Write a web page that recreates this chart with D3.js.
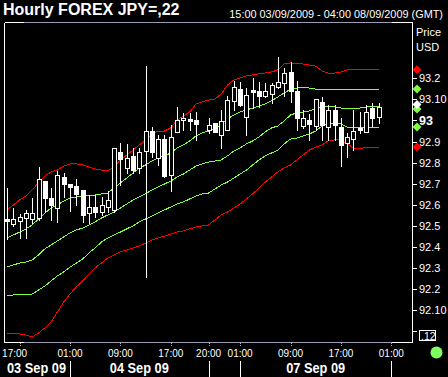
<!DOCTYPE html>
<html>
<head>
<meta charset="utf-8">
<script src="https://cdn.jsdelivr.net/npm/d3@7"></script>
<style>
  body { margin: 0; background: #000; }
  svg { display: block; font-family: "Liberation Sans", Arial, sans-serif; }
</style>
</head>
<body>
<div id="chart"></div>
<script>
// hourly candles, one slot per hour (slot 31 is empty, weekend gap)
var opens = [92.534,92.509,92.522,92.539,92.532,92.536,92.712,92.631,92.587,92.731,
  92.699,92.690,92.671,92.563,92.591,92.568,92.591,92.576,92.852,92.776,
  92.832,92.776,92.857,92.950,92.821,92.912,92.742,92.947,93.001,93.006,
  93.002,null,92.955,92.988,92.931,92.955,93.093,93.148,93.018,93.145,
  93.140,93.116,93.126,93.157,93.176,93.231,93.142,92.974,93.002,92.974,
  93.088,92.968,93.050,92.971,92.895,92.911,92.963,92.947,93.057,93.018];
var highs = [92.679,92.587,92.555,92.576,92.631,92.778,92.715,92.679,92.762,92.753,
  92.699,92.724,92.671,92.647,92.647,92.639,92.667,92.868,92.892,92.889,
  92.868,92.868,93.258,92.971,92.931,92.931,92.979,93.066,93.034,93.034,
  93.042,null,93.012,92.988,93.050,93.116,93.187,93.184,93.153,93.200,
  93.183,93.176,93.176,93.303,93.248,93.277,93.189,93.050,93.031,93.101,
  93.110,93.074,93.074,93.011,92.939,93.050,93.042,93.074,93.085,93.082];
var lows = [92.437,92.500,92.442,92.442,92.513,92.528,92.568,92.528,92.520,92.639,
  92.571,92.599,92.520,92.513,92.544,92.552,92.568,92.568,92.694,92.750,
  92.750,92.750,92.259,92.828,92.789,92.734,92.667,92.947,92.955,92.955,
  92.908,null,92.943,92.947,92.868,92.955,93.050,93.069,92.931,93.058,
  93.066,93.109,93.082,93.153,93.116,93.089,92.955,92.963,92.908,92.955,
  92.908,92.908,92.908,92.784,92.828,92.860,92.939,92.947,92.974,92.986];
var closes = [92.522,92.534,92.544,92.563,92.563,92.721,92.631,92.599,92.743,92.698,
  92.686,92.652,92.552,92.591,92.568,92.599,92.623,92.868,92.818,92.824,
  92.765,92.852,92.950,92.849,92.912,92.738,92.920,93.002,93.011,92.999,
  92.983,null,92.979,92.947,92.998,93.097,93.158,93.074,93.121,93.137,
  93.116,93.140,93.168,93.184,93.224,93.140,93.010,93.011,92.983,93.101,
  92.979,93.050,92.979,92.884,92.920,92.952,92.955,93.042,93.010,93.066];

// envelope lines
var redUp = [92.576,92.599,92.623,92.642,92.671,92.704,92.737,92.756,92.765,92.784,
  92.794,92.794,92.789,92.780,92.770,92.765,92.761,92.780,92.813,92.836,
  92.860,92.884,92.908,92.936,92.950,92.950,92.965,93.002,93.021,93.040,
  93.078,93.088,93.097,93.102,93.126,93.168,93.192,93.202,93.211,93.216,
  93.221,93.225,93.230,93.240,93.268,93.273,93.268,93.268,93.263,93.258,
  93.235,93.225,93.225,93.230,93.240,93.244,93.240,93.240,93.240,93.240];
var greenUp = [92.443,92.457,92.471,92.486,92.505,92.533,92.561,92.585,92.599,92.618,
  92.633,92.637,92.642,92.642,92.647,92.652,92.656,92.680,92.704,92.727,
  92.751,92.775,92.789,92.808,92.822,92.832,92.846,92.870,92.884,92.903,
  92.927,92.941,92.950,92.960,92.979,93.007,93.026,93.040,93.050,93.059,
  93.069,93.078,93.093,93.112,93.130,93.149,93.154,93.159,93.154,93.149,
  93.145,93.145,93.145,93.145,93.149,93.149,93.149,93.149,93.149,93.149];
var mid = [92.305,92.315,92.324,92.329,92.339,92.362,92.391,92.410,92.429,92.448,
  92.467,92.481,92.490,92.505,92.519,92.538,92.552,92.566,92.585,92.604,
  92.623,92.637,92.652,92.671,92.685,92.699,92.713,92.732,92.746,92.765,
  92.784,92.794,92.803,92.808,92.813,92.832,92.855,92.870,92.889,92.903,
  92.922,92.946,92.965,92.974,92.998,93.026,93.036,93.040,93.045,93.055,
  93.064,93.064,93.064,93.059,93.059,93.059,93.059,93.064,93.064,93.064];
var greenLow = [92.168,92.173,92.177,92.177,92.177,92.196,92.215,92.239,92.263,92.282,
  92.305,92.324,92.343,92.372,92.396,92.424,92.443,92.457,92.471,92.486,
  92.500,92.519,92.533,92.547,92.561,92.576,92.590,92.604,92.614,92.628,
  92.642,92.652,92.656,92.675,92.694,92.708,92.727,92.746,92.765,92.789,
  92.813,92.832,92.846,92.860,92.889,92.912,92.917,92.927,92.936,92.950,
  92.974,92.988,92.988,92.983,92.969,92.965,92.965,92.969,92.969,92.969];
var redLow = [91.988,91.988,91.988,91.983,91.974,91.992,92.016,92.045,92.092,92.139,
  92.177,92.211,92.239,92.272,92.301,92.324,92.348,92.362,92.377,92.386,
  92.396,92.405,92.419,92.433,92.443,92.452,92.462,92.471,92.476,92.486,
  92.495,92.500,92.505,92.528,92.552,92.566,92.585,92.604,92.628,92.652,
  92.680,92.708,92.732,92.756,92.775,92.789,92.813,92.836,92.860,92.874,
  92.884,92.903,92.908,92.908,92.889,92.870,92.865,92.874,92.874,92.874];

// axis labels
var yTickValues = [93.2,93.1,93.0,92.9,92.8,92.7,92.6,92.5,92.4,92.3,92.2,92.1];
var yTickLabels = ["93.2","93.10","93","92.9","92.8","92.7","92.6","92.5","92.4","92.3","92.2","92.10"];
var xTickSlots = [2,10,18,26,32,37,45,53,61];
var xTickLabels = ["17:00","01:00","09:00","17:00","20:00","01:00","09:00","17:00","01:00"];
var daySlots = [10,32,37,61];
var dayLabels = [{text:"03 Sep 09", from:-0.5, to:10}, {text:"04 Sep 09", from:10, to:32}, {text:"07 Sep 09", from:37, to:61}];

var width = 448, height = 377;
var pLeft = 4.5, pRight = 412.5, pTop = 22.5, pBottom = 342.5;

var svg = d3.select("#chart").append("svg")
    .attr("width", width)
    .attr("height", height);

svg.append("rect").attr("width", width).attr("height", height).attr("fill", "#000");

var x = d3.scaleLinear().domain([0, 59]).range([7, 378.7]);
var y = d3.scaleLinear().domain([92, 93.2]).range([331.4, 78.3]);

// clip the plot
svg.append("clipPath").attr("id", "plotclip")
  .append("rect").attr("x", pLeft + 0.5).attr("y", pTop + 0.5)
  .attr("width", pRight - pLeft - 1).attr("height", pBottom - pTop - 1);
var plot = svg.append("g").attr("clip-path", "url(#plotclip)");

// envelope lines
var bands = [
  {data: redLow, color: "#ff0000"},
  {data: greenLow, color: "#80ff40"},
  {data: mid, color: "#80ff40"},
  {data: greenUp, color: "#80ff40"},
  {data: redUp, color: "#ff0000"}
];
var line = d3.line().x(function(d, i) { return x(i); }).y(function(d) { return y(d); });
plot.selectAll("path.band").data(bands).enter().append("path")
  .attr("class", "band")
  .attr("d", function(b) { return line(b.data); })
  .attr("fill", "none")
  .attr("stroke", function(b) { return b.color; })
  .attr("stroke-width", 1)
  .attr("shape-rendering", "crispEdges");

// candles
var candles = d3.range(opens.length).filter(function(i) { return opens[i] != null; });
var cg = plot.selectAll("g.candle").data(candles).enter().append("g").attr("class", "candle");
cg.append("line")
  .attr("x1", function(i) { return Math.round(x(i)) + 0.5; })
  .attr("x2", function(i) { return Math.round(x(i)) + 0.5; })
  .attr("y1", function(i) { return Math.round(y(highs[i])); })
  .attr("y2", function(i) { return Math.round(y(lows[i])) + 1; })
  .attr("stroke", "#fff")
  .attr("shape-rendering", "crispEdges");
cg.append("rect")
  .attr("x", function(i) { return closes[i] >= opens[i] ? Math.round(x(i)) - 1.5 : Math.round(x(i)) - 2; })
  .attr("y", function(i) {
    var t = Math.round(y(Math.max(opens[i], closes[i])));
    return closes[i] >= opens[i] ? t + 0.5 : t;
  })
  .attr("width", function(i) { return closes[i] >= opens[i] ? 4 : 5; })
  .attr("height", function(i) {
    var h = Math.round(y(Math.min(opens[i], closes[i]))) - Math.round(y(Math.max(opens[i], closes[i])));
    return Math.max(h, 1) + (closes[i] >= opens[i] ? 0 : 1);
  })
  .attr("fill", function(i) { return closes[i] >= opens[i] ? "#000" : "#fff"; })
  .attr("stroke", function(i) { return closes[i] >= opens[i] ? "#fff" : "none"; })
  .attr("shape-rendering", "crispEdges");

// frame: white sides, grey top/bottom with white corners
var frame = svg.append("g").attr("shape-rendering", "crispEdges");
[pTop, pBottom].forEach(function(yy) {
  frame.append("line").attr("x1", pLeft).attr("x2", pRight).attr("y1", yy).attr("y2", yy).attr("stroke", "#9c9cb8");
  frame.append("line").attr("x1", pLeft).attr("x2", 24).attr("y1", yy).attr("y2", yy).attr("stroke", "#fff");
  frame.append("line").attr("x1", 392).attr("x2", pRight).attr("y1", yy).attr("y2", yy).attr("stroke", "#fff");
});
[pLeft, pRight].forEach(function(xx) {
  frame.append("line").attr("x1", xx).attr("x2", xx).attr("y1", pTop).attr("y2", pBottom).attr("stroke", "#fff");
});

// price axis on the right
var yAxis = svg.append("g");
yAxis.selectAll("line.tick").data(yTickValues.concat([92.0])).enter().append("line")
  .attr("x1", pRight).attr("x2", pRight + 4)
  .attr("y1", function(v) { return Math.round(y(v)) + 0.5; })
  .attr("y2", function(v) { return Math.round(y(v)) + 0.5; })
  .attr("stroke", "#fff")
  .attr("shape-rendering", "crispEdges");
yAxis.selectAll("text.tick").data(yTickValues).enter().append("text")
  .attr("x", 419)
  .attr("y", function(v) { return y(v); })
  .attr("dy", "0.36em")
  .attr("fill", "#fff")
  .style("font-size", function(v, i) { return yTickLabels[i] == "93" ? "12.5px" : "11px"; })
  .style("font-weight", function(v, i) { return yTickLabels[i] == "93" ? "bold" : "normal"; })
  .text(function(v, i) { return yTickLabels[i]; });

svg.append("text").attr("x", 416).attr("y", 36).attr("fill", "#fff").style("font-size", "11px").text("Price");
svg.append("text").attr("x", 416).attr("y", 51).attr("fill", "#fff").style("font-size", "11px").text("USD");

// boxed bar count
svg.append("rect").attr("x", 419.5).attr("y", 330.5).attr("width", 16).attr("height", 10)
  .attr("fill", "none").attr("stroke", "#fff").attr("shape-rendering", "crispEdges");
svg.append("text").attr("x", 421).attr("y", 339.5).attr("fill", "#fff").style("font-size", "10.5px").text(".12");

// last value markers
var markers = [
  {v: redUp[59], c: "#ff0000", dy: 0},
  {v: greenUp[59], c: "#80ff40", dy: 0},
  {v: mid[59], c: "#80ff40", dy: 2},
  {v: closes[59], c: "#ffffff", dy: -2},
  {v: greenLow[59], c: "#80ff40", dy: 0},
  {v: redLow[59], c: "#ff0000", dy: 0}
];
svg.selectAll("path.marker").data(markers).enter().append("path")
  .attr("d", function(m) {
    var cy = y(m.v) + m.dy;
    return "M417," + (cy - 4.5) + "L421.5," + cy + "L417," + (cy + 4.5) + "L412.5," + cy + "Z";
  })
  .attr("fill", function(m) { return m.c; });

// time axis
var xAxis = svg.append("g");
xAxis.selectAll("line").data(xTickSlots).enter().append("line")
  .attr("x1", function(s) { return Math.round(x(s)) + 0.5; })
  .attr("x2", function(s) { return Math.round(x(s)) + 0.5; })
  .attr("y1", 343).attr("y2", 346)
  .attr("stroke", "#b0b0b0")
  .attr("stroke-dasharray", "1,1")
  .attr("shape-rendering", "crispEdges");
xAxis.selectAll("text").data(xTickSlots).enter().append("text")
  .attr("x", function(s, i) { return i == 0 ? x(s) - 5 : x(s); })
  .attr("y", 357)
  .attr("text-anchor", "middle")
  .attr("fill", "#fff")
  .style("font-size", "10px")
  .text(function(s, i) { return xTickLabels[i]; });

// day strip
svg.selectAll("line.day").data(daySlots).enter().append("line")
  .attr("class", "day")
  .attr("x1", function(s) { return Math.round(x(s)) + 0.5; })
  .attr("x2", function(s) { return Math.round(x(s)) + 0.5; })
  .attr("y1", 361).attr("y2", 377)
  .attr("stroke", "#fff")
  .attr("shape-rendering", "crispEdges");
svg.selectAll("text.day").data(dayLabels).enter().append("text")
  .attr("class", "day")
  .attr("x", function(d) { return d.from < 0 ? 36.5 : (x(d.from) + x(d.to)) / 2; })
  .attr("y", 373)
  .attr("text-anchor", "middle")
  .attr("textLength", 59)
  .attr("lengthAdjust", "spacingAndGlyphs")
  .attr("fill", "#fff")
  .style("font-weight", "bold")
  .style("font-size", "15px")
  .text(function(d) { return d.text; });

// status light
svg.append("circle").attr("cx", 436.5).attr("cy", 352.5).attr("r", 6).attr("fill", "#80ff60");

// titles
svg.append("text").attr("x", 3).attr("y", 15).attr("fill", "#fff")
  .style("font-size", "16px").style("font-weight", "bold")
  .text("Hourly FOREX JPY=,22");
svg.append("text").attr("x", 443).attr("y", 17.5).attr("text-anchor", "end").attr("fill", "#fff")
  .style("font-size", "10.9px")
  .text("15:00 03/09/2009 - 04:00 08/09/2009 (GMT)");
</script>
</body>
</html>
